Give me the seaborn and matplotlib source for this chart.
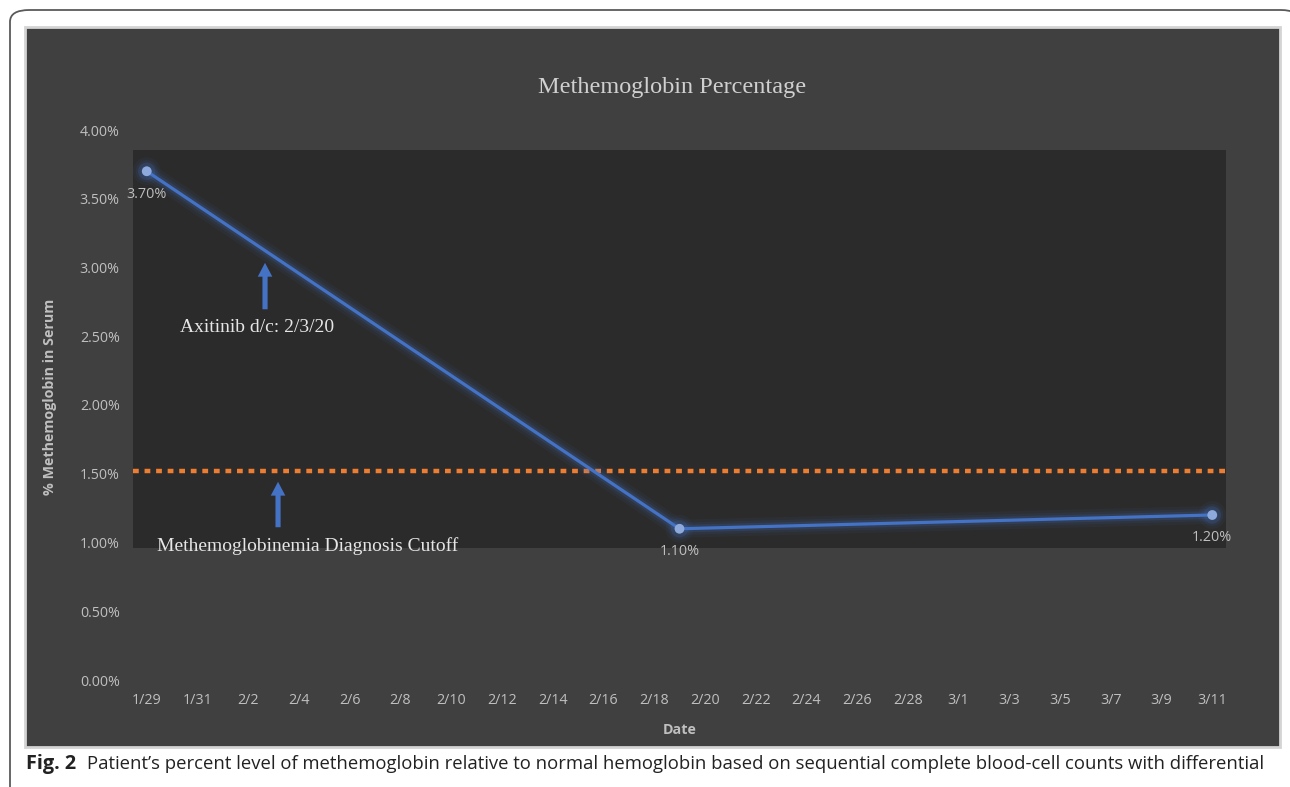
import numpy as np
import pandas as pd
import matplotlib
matplotlib.use("Agg")
import matplotlib.pyplot as plt
import matplotlib.patheffects as pe
from matplotlib.patches import Rectangle, FancyBboxPatch, FancyArrowPatch
import seaborn as sns

# ---- data ----
dates = ["2020-01-29", "2020-02-19", "2020-03-11"]
values = [3.70, 1.10, 1.20]            # % methemoglobin
point_labels = ["3.70%", "1.10%", "1.20%"]
cutoff = 1.52
tick_dates = pd.date_range("2020-01-29", "2020-03-11", freq="2D")
tick_labels = ["1/29", "1/31", "2/2", "2/4", "2/6", "2/8", "2/10", "2/12", "2/14",
               "2/16", "2/18", "2/20", "2/22", "2/24", "2/26", "2/28", "3/1",
               "3/3", "3/5", "3/7", "3/9", "3/11"]
y_ticks = [0.0, 0.5, 1.0, 1.5, 2.0, 2.5, 3.0, 3.5, 4.0]
y_tick_labels = ["0.00%", "0.50%", "1.00%", "1.50%", "2.00%", "2.50%", "3.00%", "3.50%", "4.00%"]

title = "Methemoglobin Percentage"
caption_bold = "Fig. 2"
caption = ("Patient\u2019s percent level of methemoglobin relative to normal hemoglobin "
           "based on sequential complete blood-cell counts with differential")

df = pd.DataFrame({"Date": pd.to_datetime(dates), "Value": values})

sns.set_theme(style="white")
plt.rcParams["font.family"] = ["Open Sans", "DejaVu Sans"]

W, H = 1290, 787
fig = plt.figure(figsize=(W / 100, H / 100), dpi=100, facecolor="white")

def fx(x):
    return x / W

def fy(y):
    return 1 - y / H

# outer rounded frame
frame = FancyBboxPatch((fx(10), fy(800)), fx(1300) - fx(10), fy(10) - fy(800),
                       boxstyle="round,pad=0,rounding_size=0.015",
                       transform=fig.transFigure, facecolor="white",
                       edgecolor="#5a5a5a", lw=1.3, zorder=-2)
fig.patches.append(frame)

# chart background
bg = Rectangle((fx(25), fy(747)), fx(1280) - fx(25), fy(27) - fy(747),
               transform=fig.transFigure, facecolor="#404040",
               edgecolor="#d4d4d4", lw=2, zorder=-1)
fig.patches.append(bg)

ax = fig.add_axes([fx(133), fy(680), fx(1226) - fx(133), fy(130) - fy(680)])
ax.set_zorder(5)
ax.set_facecolor("none")
ax.patch.set_alpha(0)

# darker inner panel (axes fraction)
ax.add_patch(Rectangle((0, (680 - 548) / 550), 1, (548 - 150) / 550,
                       transform=ax.transAxes, facecolor="#2b2b2b",
                       edgecolor="none", zorder=0))

blue = "#4472c4"
sns.lineplot(data=df, x="Date", y="Value", ax=ax, color=blue, lw=2.3,
             marker="o", markersize=7, markerfacecolor="#8eaadc",
             markeredgecolor="none", zorder=3)
line = ax.lines[-1]
line.set_path_effects([pe.Stroke(linewidth=13, foreground=blue, alpha=0.06),
                       pe.Stroke(linewidth=9, foreground=blue, alpha=0.09),
                       pe.Stroke(linewidth=5.5, foreground=blue, alpha=0.16),
                       pe.Normal()])

ax.axhline(cutoff, color="#ed7d31", lw=3.2, linestyle=(0, (1.3, 1.3)),
           dash_capstyle="butt", zorder=2)

for d, v, lab in zip(df["Date"], df["Value"], point_labels):
    ax.annotate(lab, (d, v), xytext=(0, -16.5), textcoords="offset points",
                ha="center", va="center", color="#bfbfbf", fontsize=10.4, zorder=4)

pad = pd.Timedelta(hours=13)
ax.set_xlim(df["Date"].min() - pad, df["Date"].max() + pad)
ax.set_ylim(0, 4)
ax.set_xticks(tick_dates)
ax.set_xticklabels(tick_labels)
ax.set_yticks(y_ticks)
ax.set_yticklabels(y_tick_labels)
ax.tick_params(axis="both", length=0, colors="#bfbfbf", labelsize=10.3)
ax.tick_params(axis="x", pad=9.5)
ax.tick_params(axis="y", pad=9.5)
for s in ax.spines.values():
    s.set_visible(False)
ax.grid(False)

ax.set_xlabel("Date", color="#bfbfbf", fontsize=10.3, fontweight="bold")
ax.xaxis.set_label_coords(0.5, -0.079)
ax.set_ylabel("% Methemoglobin in Serum", color="#bfbfbf", fontsize=10.3,
              fontweight="bold")
ax.yaxis.set_label_coords(-0.0695, 0.5145)

fig.text(fx(672), fy(88), title, ha="center", va="center", color="#d0d0d0",
         fontsize=17.5, family=["Liberation Serif"])

# annotations
serif = ["Liberation Serif"]
ax.text(0.1134, 0.6418, "Axitinib d/c: 2/3/20", transform=ax.transAxes,
        ha="center", va="center", color="#e6e6e6", fontsize=14, family=serif)
ax.text(0.160, 0.2436, "Methemoglobinemia Diagnosis Cutoff", transform=ax.transAxes,
        ha="center", va="center", color="#e6e6e6", fontsize=14, family=serif)

astyle = "simple,head_length=1.0,head_width=1.05,tail_width=0.37"
for x0, y0, y1 in [(0.1208, 0.669, 0.7636), (0.1327, 0.2727, 0.3655)]:
    ax.add_patch(FancyArrowPatch((x0, y0), (x0, y1), transform=ax.transAxes,
                                 arrowstyle=astyle, mutation_scale=10,
                                 color=blue, lw=0, zorder=4))

fig.text(fx(26), fy(764), caption_bold, ha="left", va="center", color="#222222",
         fontsize=14.3, fontweight="bold")
fig.text(fx(87), fy(764), caption, ha="left", va="center", color="#222222",
         fontsize=13.3)

fig.savefig("out.png", dpi=100, facecolor="white")
